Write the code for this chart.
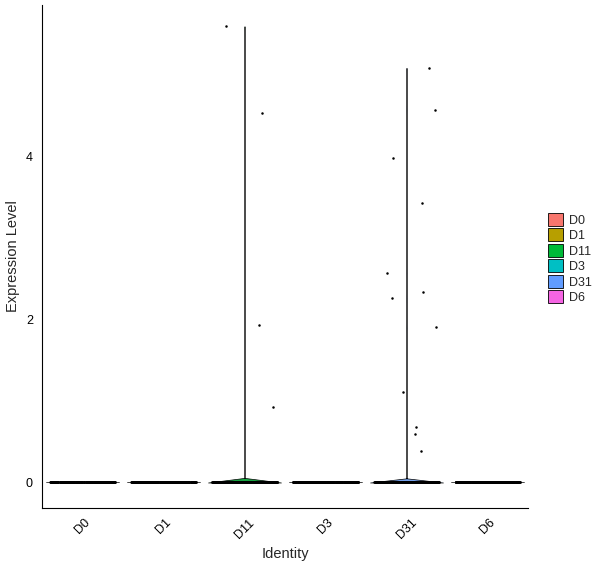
import numpy as np, pandas as pd, seaborn as sns, matplotlib
matplotlib.use("Agg")
import matplotlib.pyplot as plt
from matplotlib.patches import Patch

idents = ["D0", "D1", "D11", "D3", "D31", "D6"]
colors = ["#F8766D", "#B79F00", "#00BA38", "#00BFC4", "#619CFF", "#F564E3"]
n_zero = [300, 300, 300, 300, 300, 300]
nonzero = {
    "D11": [5.59, 4.53, 1.93, 0.93],
    "D31": [5.08, 4.57, 3.98, 3.42, 2.57, 2.26, 2.34, 1.90, 1.11, 0.60, 0.68, 0.38],
}

rows = []
for g, nz in zip(idents, n_zero):
    rows += [(g, 0.0)] * nz
    rows += [(g, v) for v in nonzero.get(g, [])]
df = pd.DataFrame(rows, columns=["Identity", "Expression Level"])

sns.set_style("white")
plt.rcParams["font.family"] = ["Liberation Sans", "DejaVu Sans"]
fig = plt.figure(figsize=(6, 5.68), dpi=100)
ax = fig.add_axes([0.07, 0.106, 0.81, 0.885])
sns.violinplot(data=df, x="Identity", y="Expression Level", hue="Identity", order=idents,
               palette=dict(zip(idents, colors)), cut=0, density_norm="width", inner=None,
               bw_adjust=0.02, linewidth=0.5, linecolor="black", legend=False, ax=ax, width=0.9)
sns.stripplot(data=df, x="Identity", y="Expression Level", order=idents, color="black",
              size=1.8, jitter=0.4, ax=ax, legend=False)
ax.set_ylim(-0.31, 5.85)
ax.set_yticks([0, 2, 4])
ax.tick_params(axis="both", length=3, labelsize=9, color="black", labelcolor="black")
plt.setp(ax.get_xticklabels(), rotation=45)
for s in ["top", "right"]:
    ax.spines[s].set_visible(False)
for s in ["left", "bottom"]:
    ax.spines[s].set_color("black")
ax.set_xlabel("Identity", fontsize=10.5)
ax.set_ylabel("Expression Level", fontsize=10.5)
handles = [Patch(facecolor=c, edgecolor="black", linewidth=0.6, label=g) for g, c in zip(idents, colors)]
fig.legend(handles=handles, loc="center left", bbox_to_anchor=(0.895, 0.545), frameon=False,
           fontsize=9, handlelength=1.2, handleheight=1.2, labelspacing=0.15, handletextpad=0.5)
fig.savefig("out.png", dpi=100)
